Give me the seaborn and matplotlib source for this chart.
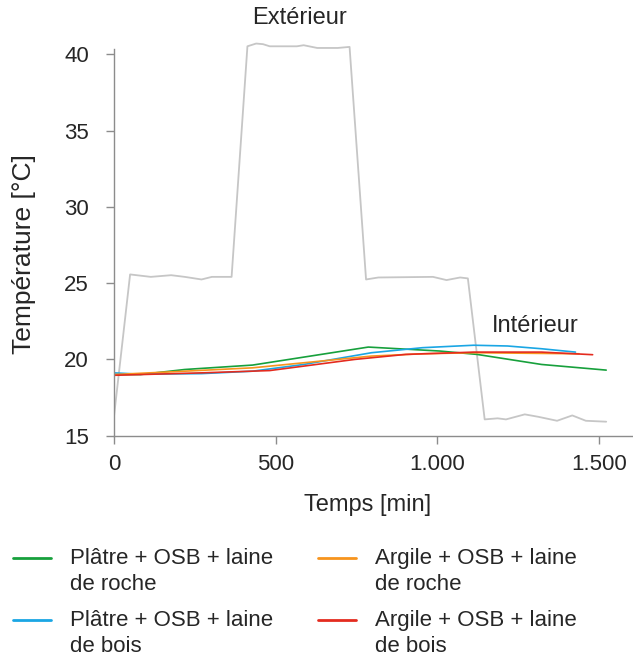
import matplotlib
matplotlib.use("Agg")
import matplotlib.pyplot as plt
import seaborn as sns
import pandas as pd
import numpy as np

# Extérieur (gris)
ext_t = [0, 50, 114, 177, 219, 271, 303, 364, 413, 440, 461, 482, 566, 587, 629, 692, 729,
         780, 818, 987, 1029, 1071, 1095, 1147, 1187, 1213, 1271, 1313, 1371, 1418, 1460, 1523]
ext_T = [16.24, 25.57, 25.41, 25.52, 25.41, 25.24, 25.41, 25.41, 40.52, 40.70, 40.66, 40.52,
         40.52, 40.59, 40.41, 40.41, 40.48, 25.24, 25.37, 25.41, 25.20, 25.37, 25.31, 16.07,
         16.14, 16.07, 16.40, 16.24, 15.98, 16.33, 15.98, 15.92]

# Intérieur
green_t = [0, 82, 219, 429, 787, 1008, 1123, 1323, 1523]
green_T = [19.01, 19.01, 19.34, 19.63, 20.81, 20.55, 20.33, 19.67, 19.30]
blue_t = [0, 82, 271, 429, 587, 797, 955, 1113, 1218, 1323, 1428]
blue_T = [19.12, 19.03, 19.07, 19.23, 19.67, 20.44, 20.77, 20.93, 20.88, 20.70, 20.48]
orange_t = [0, 219, 429, 587, 797, 955, 1113, 1439]
orange_T = [19.01, 19.23, 19.45, 19.78, 20.22, 20.37, 20.44, 20.37]
red_t = [0, 271, 482, 745, 903, 1113, 1323, 1481]
red_T = [18.96, 19.12, 19.27, 20.00, 20.33, 20.48, 20.48, 20.31]

labels = ["Plâtre + OSB + laine\nde roche", "Plâtre + OSB + laine\nde bois",
          "Argile + OSB + laine\nde roche", "Argile + OSB + laine\nde bois"]
colors = ["#17a03c", "#1aa6e4", "#f7941d", "#e42b1f"]

frames = []
for lab, t, T in zip(labels, [green_t, blue_t, orange_t, red_t],
                     [green_T, blue_T, orange_T, red_T]):
    frames.append(pd.DataFrame({"t": t, "T": T, "mur": lab}))
df = pd.concat(frames, ignore_index=True)
df_ext = pd.DataFrame({"t": ext_t, "T": ext_T})

sns.set_style("white")
plt.rcParams["font.family"] = ["Liberation Sans", "DejaVu Sans"]
plt.rcParams["font.size"] = 16

fig = plt.figure(figsize=(6.33, 6.59), dpi=100)
ax = fig.add_axes([0.180, 0.3388, 0.818, 0.6067])

sns.lineplot(data=df_ext, x="t", y="T", color="#c6c6c6", lw=1.3, sort=False,
             estimator=None, ax=ax, legend=False)
sns.lineplot(data=df, x="t", y="T", hue="mur", palette=colors, lw=1.2, sort=False,
             estimator=None, ax=ax)

ax.set_xlim(0, 1602)
ax.set_ylim(15, 41.2)
ax.set_xticks([0, 500, 1000, 1500])
ax.set_xticklabels(["0", "500", "1.000", "1.500"])
ax.set_yticks([15, 20, 25, 30, 35, 40])
for s in ["top", "right"]:
    ax.spines[s].set_visible(False)
for s in ["left", "bottom"]:
    ax.spines[s].set_color("#8c8c8c")
    ax.spines[s].set_linewidth(1.0)
ax.spines["left"].set_bounds(15, 40.35)
ax.tick_params(axis="both", direction="out", length=6, width=1.0, color="#8c8c8c",
               labelsize=16, left=True, bottom=True)
ax.tick_params(axis="x", pad=7)
ax.tick_params(axis="y", pad=12)

ax.set_xlabel("Temps [min]", fontsize=17, va="center")
ax.xaxis.set_label_coords(0.489, -0.173)
ax.set_ylabel("Température [°C]", fontsize=19, va="center")
ax.yaxis.set_label_coords(-0.174, 0.455)

ax.text(575, 42.38, "Extérieur", ha="center", va="center", fontsize=17, clip_on=False)
ax.text(1302, 22.19, "Intérieur", ha="center", va="center", fontsize=17)

ax.get_legend().remove()
handles, labs = ax.get_legend_handles_labels()
leg = fig.legend(handles, labs, loc="upper left", bbox_to_anchor=(0.02, 0.168), ncol=2,
                 frameon=False, fontsize=16, handlelength=1.71, handletextpad=0.87,
                 columnspacing=2.0, labelspacing=0.7, borderpad=0, borderaxespad=0)
for txt in leg.get_texts():
    txt.set_linespacing(1.28)
for ln in leg.get_lines():
    ln.set_linewidth(2.0)
    ln.set_ydata(np.asarray(ln.get_ydata()) + 10.2)

fig.savefig("out.png", dpi=100)
